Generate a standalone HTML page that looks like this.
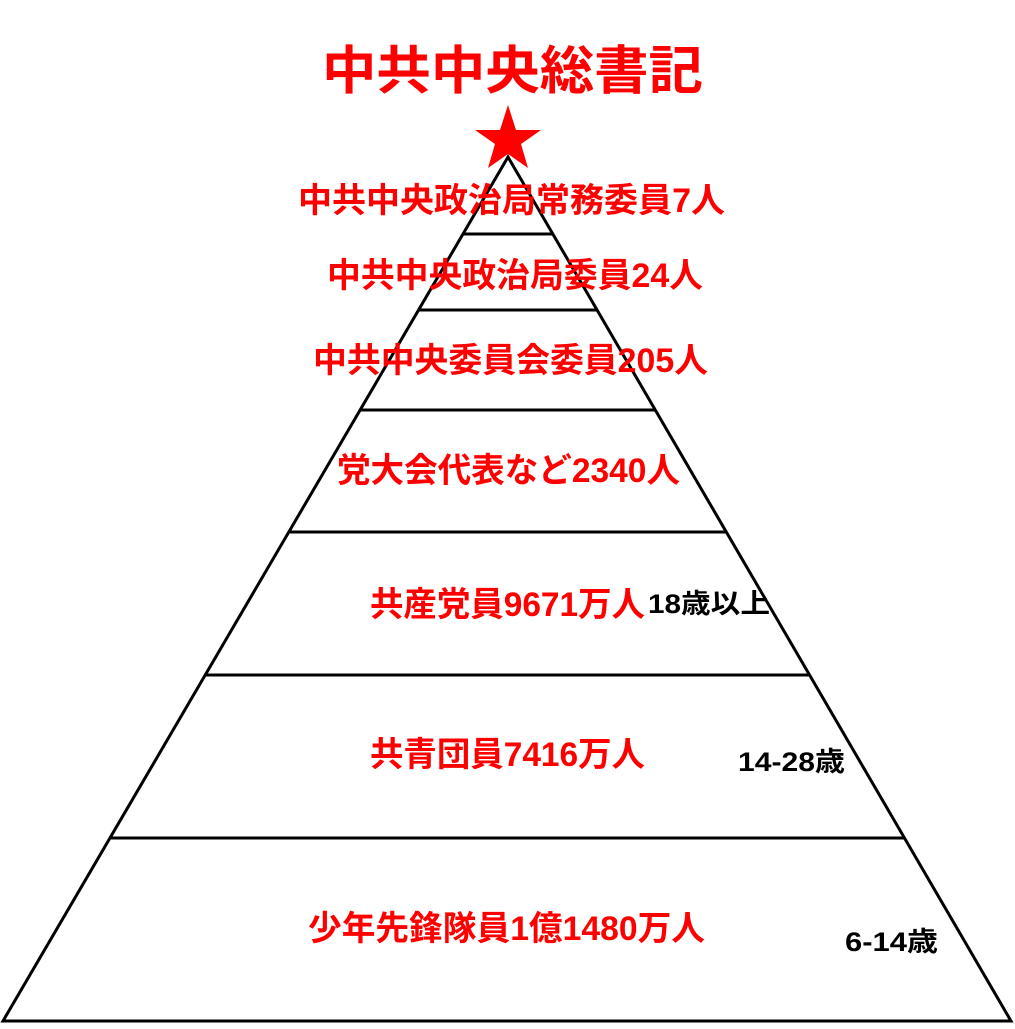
<!DOCTYPE html>
<html><head><meta charset="utf-8"><style>html,body{margin:0;padding:0;background:#fff}</style></head>
<body>
<svg width="1015" height="1024" viewBox="0 0 1015 1024" xmlns="http://www.w3.org/2000/svg">
<g stroke="#000" stroke-width="3" fill="none">
<polygon points="508,157 1011,1021 3,1021"/>
<line x1="463" y1="234" x2="553" y2="234"/>
<line x1="419" y1="310" x2="597" y2="310"/>
<line x1="361" y1="410" x2="656" y2="410"/>
<line x1="290" y1="532" x2="726" y2="532"/>
<line x1="206" y1="675" x2="809" y2="675"/>
<line x1="111" y1="838" x2="904" y2="838"/>
</g>
<polygon fill="#ff0000" points="508,105 516,130 541,130 521,144 528,168 508,154 488,168 495,144 475,130 500,130"/>
<g font-family="'Liberation Sans','Noto Sans CJK JP',sans-serif" font-weight="bold" fill="#ff0000" dominant-baseline="central">
<text x="322" y="72" font-size="52" textLength="381" lengthAdjust="spacingAndGlyphs">中共中央総書記</text>
<text x="298" y="201" font-size="34" textLength="427" lengthAdjust="spacingAndGlyphs">中共中央政治局常務委員7人</text>
<text x="327" y="276" font-size="34" textLength="376" lengthAdjust="spacingAndGlyphs">中共中央政治局委員24人</text>
<text x="313" y="361" font-size="34" textLength="395" lengthAdjust="spacingAndGlyphs">中共中央委員会委員205人</text>
<text x="337" y="471" font-size="34" textLength="343" lengthAdjust="spacingAndGlyphs">党大会代表など2340人</text>
<text x="370" y="605" font-size="34" textLength="275" lengthAdjust="spacingAndGlyphs">共産党員9671万人</text>
<text x="370" y="755" font-size="34" textLength="275" lengthAdjust="spacingAndGlyphs">共青団員7416万人</text>
<text x="308" y="929" font-size="34" textLength="397" lengthAdjust="spacingAndGlyphs">少年先鋒隊員1億1480万人</text>
</g>
<g font-family="'Liberation Sans','Noto Sans CJK JP',sans-serif" font-weight="bold" fill="#000" dominant-baseline="central">
<text x="648" y="604" font-size="27" textLength="122" lengthAdjust="spacingAndGlyphs">18歳以上</text>
<text x="738" y="762" font-size="27" textLength="107" lengthAdjust="spacingAndGlyphs">14-28歳</text>
<text x="845" y="942" font-size="27" textLength="93" lengthAdjust="spacingAndGlyphs">6-14歳</text>
</g>
</svg>
</body></html>
